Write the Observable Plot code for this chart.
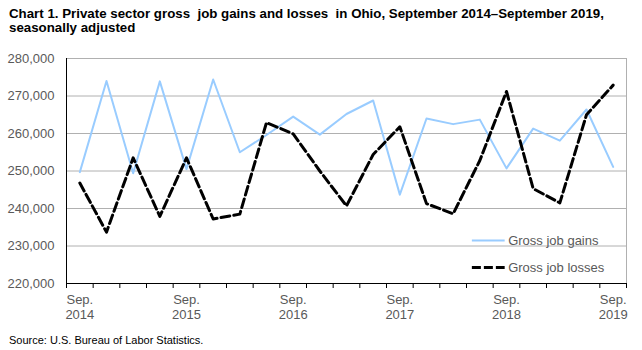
<!DOCTYPE html>
<html>
<head>
<meta charset="utf-8">
<script src="https://cdn.jsdelivr.net/npm/d3@7"></script>
<script src="https://cdn.jsdelivr.net/npm/@observablehq/plot@0.6"></script>
<style>
  body { margin: 0; background: #fff; width: 642px; height: 350px; overflow: hidden; position: relative; }
  #title { position: absolute; left: 9px; top: 7px; font: bold 13.3px/14px "Liberation Sans", Arial, sans-serif; color: #000; }
  #chart { position: absolute; left: 0; top: 48px; }
  #source { position: absolute; left: 9px; top: 334px; font: 11px "Liberation Sans", Arial, sans-serif; color: #000; }
</style>
</head>
<body>
<div id="title">Chart 1. Private sector gross&nbsp; job gains and losses&nbsp; in Ohio, September 2014–September 2019,<br>seasonally adjusted</div>
<div id="chart"></div>
<div id="source">Source: U.S. Bureau of Labor Statistics.</div>
<script>
const quarters = ["Sep. 2014","Dec. 2014","Mar. 2015","Jun. 2015","Sep. 2015","Dec. 2015","Mar. 2016","Jun. 2016",
  "Sep. 2016","Dec. 2016","Mar. 2017","Jun. 2017","Sep. 2017","Dec. 2017","Mar. 2018","Jun. 2018",
  "Sep. 2018","Dec. 2018","Mar. 2019","Jun. 2019","Sep. 2019"];
const grossJobGains = [249700, 274000, 249400, 273900, 250500, 274400, 255000, 259600, 264500, 259700, 265200,
  268800, 243700, 264000, 262500, 263700, 250700, 261300, 258100, 266400, 251100];
const grossJobLosses = [246800, 233700, 253500, 237900, 253500, 237200, 238500, 262900, 259900, 250000, 240700,
  254400, 261800, 241300, 238600, 252800, 271200, 245300, 241500, 265000, 272900];
const yTicks = [220000, 230000, 240000, 250000, 260000, 270000, 280000];
const xLabelIdx = [0, 4, 8, 12, 16, 20];
const seriesNames = ["Gross job gains", "Gross job losses"];

const gainsData = quarters.map((q, i) => ({i, v: grossJobGains[i]}));
const lossesData = quarters.map((q, i) => ({i, v: grossJobLosses[i]}));
const boundaries = d3.range(quarters.length + 1).map(k => k - 0.5);
const labelData = xLabelIdx.map(i => ({i, t: quarters[i].replace(" ", "\n")}));

const fontFam = '"Liberation Sans", Arial, sans-serif';
const gainColor = "#99ccff";
const legendY0 = 231500, legendY1 = 224300;
const legX1 = 14.72, legX2 = 15.95;

const plot = Plot.plot({
  width: 642,
  height: 280,
  marginLeft: 66,
  marginRight: 16,
  marginTop: 10,
  marginBottom: 45,
  style: {fontFamily: fontFam, fontSize: "13px", background: "#fff"},
  x: {type: "linear", domain: [-0.5, quarters.length - 0.5], axis: null},
  y: {type: "linear", domain: [220000, 280000], axis: null},
  marks: [
    Plot.ruleY(yTicks.slice(1), {stroke: "#b0b0b0", strokeWidth: 1}),
    Plot.frame({stroke: "#b0b0b0", strokeWidth: 1}),
    Plot.axisX({ticks: boundaries, tickSize: 5, tickFormat: () => "", label: null, stroke: "#000"}),
    Plot.ruleY([220000], {stroke: "#000", strokeWidth: 1}),
    Plot.ruleX([-0.5], {stroke: "#000", strokeWidth: 1}),
    Plot.text(yTicks, {x: -0.5, y: d => d, text: d => d3.format(",")(d), textAnchor: "end", dx: -12, fill: "#595959", fontSize: 13}),
    Plot.text(labelData, {x: "i", text: "t", frameAnchor: "bottom", lineAnchor: "top", dy: 11, lineHeight: 1.08, fill: "#595959", fontSize: 13}),
    Plot.line(gainsData, {x: "i", y: "v", stroke: gainColor, strokeWidth: 2}),
    Plot.line(lossesData, {x: "i", y: "v", stroke: "#000", strokeWidth: 3, strokeDasharray: "9,4"}),
    // legend (inside plot)
    Plot.ruleY([legendY0], {x1: legX1, x2: legX2, stroke: gainColor, strokeWidth: 2}),
    Plot.ruleY([legendY1], {x1: legX1, x2: legX2, stroke: "#000", strokeWidth: 3, strokeDasharray: "9,3"}),
    Plot.text([{y: legendY0, t: seriesNames[0]}, {y: legendY1, t: seriesNames[1]}], {x: legX2, y: "y", text: "t", textAnchor: "start", dx: 3, fill: "#595959", fontSize: 13})
  ]
});
document.getElementById("chart").appendChild(plot);
</script>
</body>
</html>
